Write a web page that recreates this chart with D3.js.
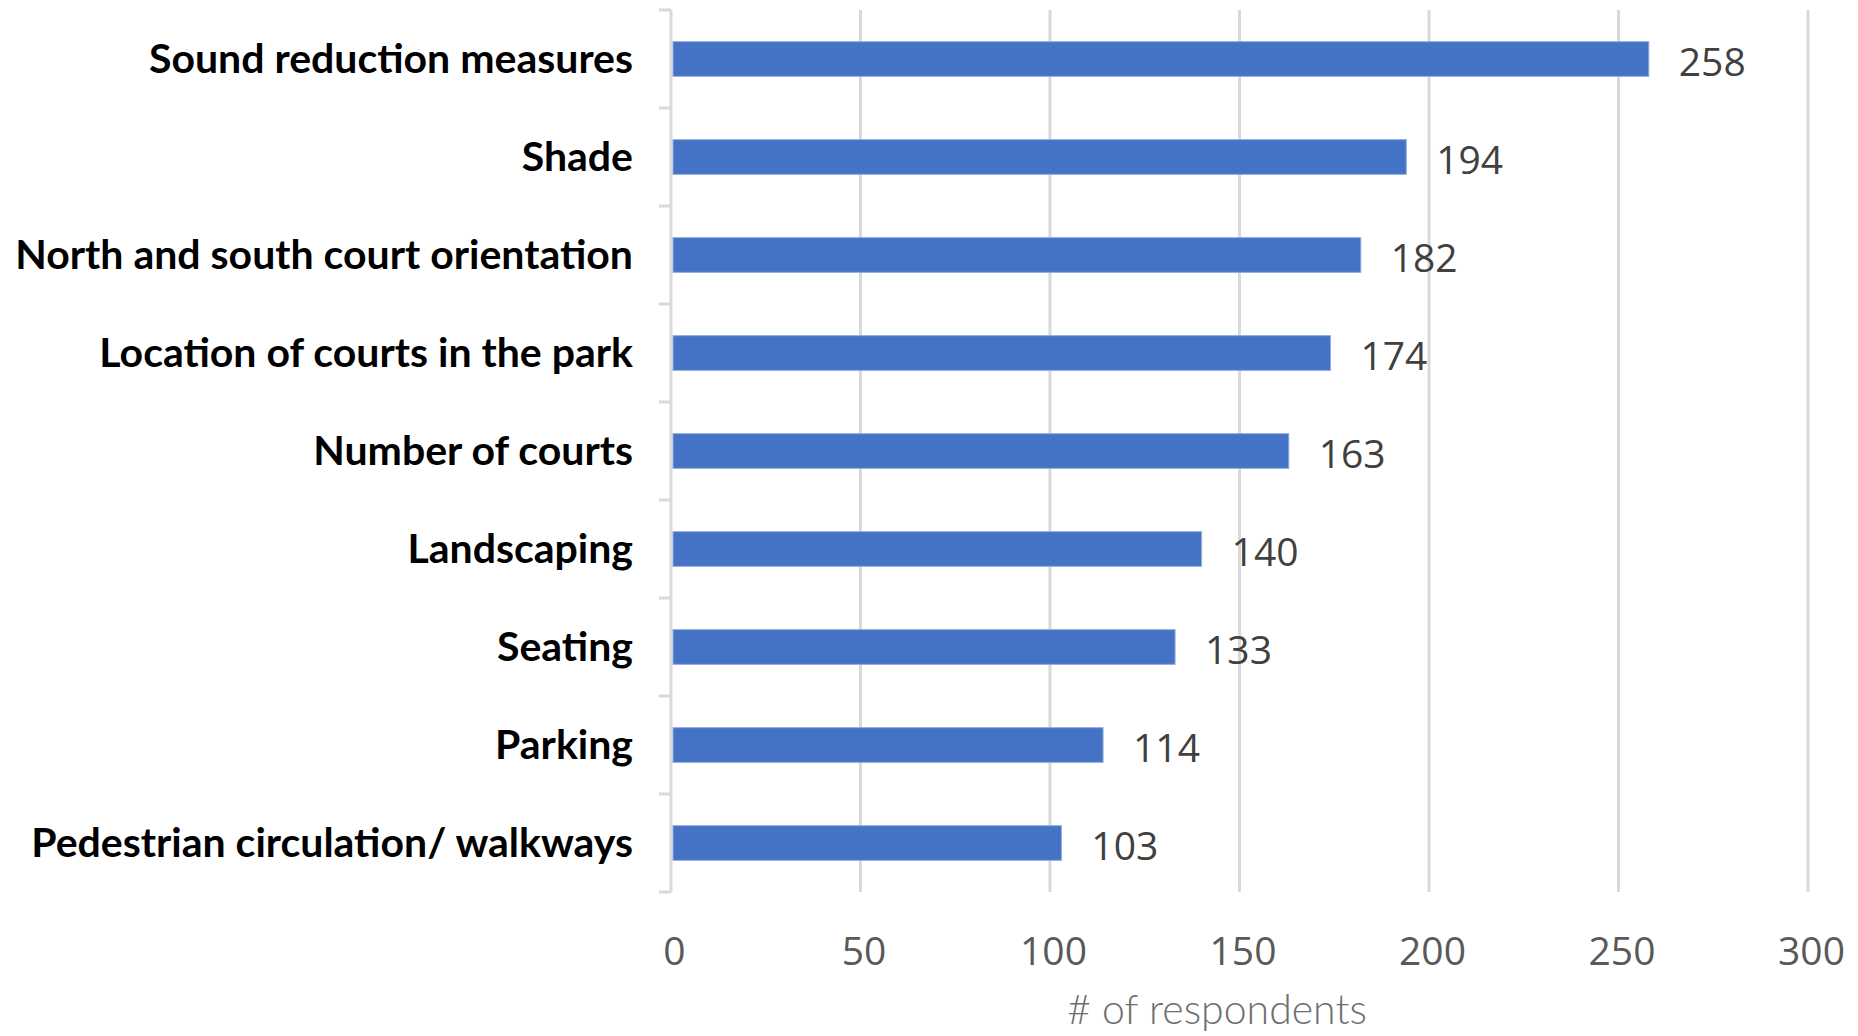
<!DOCTYPE html>
<html>
<head>
<meta charset="utf-8">
<script src="https://cdn.jsdelivr.net/npm/d3@7"></script>
<style>
  html, body { margin: 0; padding: 0; background: #ffffff; }
  svg { display: block; }
</style>
</head>
<body>
<svg id="chart" width="1858" height="1036"></svg>
<script>
const categories = [
  "Sound reduction measures",
  "Shade",
  "North and south court orientation",
  "Location of courts in the park",
  "Number of courts",
  "Landscaping",
  "Seating",
  "Parking",
  "Pedestrian circulation/ walkways"
];
const values = [258, 194, 182, 174, 163, 140, 133, 114, 103];
const xTicks = [0, 50, 100, 150, 200, 250, 300];
const xTitle = "# of respondents";

(function () {
const svg = d3.select("#chart");
const pLeft = 671, pRight = 1808, pTop = 10, pBottom = 892;

const x = d3.scaleLinear().domain([0, 300]).range([pLeft, pRight]);
const y = d3.scaleBand().domain(categories).range([pTop, pBottom])
  .paddingInner(0.646).paddingOuter(0.323);

// gridlines
svg.append("g").selectAll("line").data(xTicks.filter(d => d > 0)).join("line")
  .attr("x1", d => x(d)).attr("x2", d => x(d))
  .attr("y1", pTop).attr("y2", pBottom)
  .attr("stroke", "#d9d9d9").attr("stroke-width", 3);

// left axis line + category tick marks
svg.append("line")
  .attr("x1", pLeft).attr("x2", pLeft).attr("y1", pTop).attr("y2", pBottom)
  .attr("stroke", "#d9d9d9").attr("stroke-width", 3);
const step = y.step();
const boundaryVals = d3.range(categories.length + 1).map(i => pTop + i * step);
svg.append("g").selectAll("line").data(boundaryVals).join("line")
  .attr("x1", pLeft - 12).attr("x2", pLeft)
  .attr("y1", d => d).attr("y2", d => d)
  .attr("stroke", "#d9d9d9").attr("stroke-width", 3);

// bars
svg.append("g").selectAll("rect").data(values).join("rect")
  .attr("x", x(0) + 2)
  .attr("y", (d, i) => y(categories[i]))
  .attr("width", d => x(d) - x(0) - 2)
  .attr("height", y.bandwidth())
  .attr("fill", "#4472c4")
  .attr("stroke", "#8faadc").attr("stroke-width", 1);

// value labels
svg.append("g").selectAll("text").data(values).join("text")
  .attr("x", d => x(d) + 30)
  .attr("y", (d, i) => y(categories[i]) + y.bandwidth() / 2 + 1)
  .attr("dominant-baseline", "central")
  .attr("font-family", "'Open Sans', sans-serif")
  .attr("font-size", 39)
  .attr("fill", "#404040")
  .text(d => d);

// category labels
svg.append("g").selectAll("text").data(categories).join("text")
  .attr("x", 633)
  .attr("y", d => y(d) + y.bandwidth() / 2 - 2)
  .attr("dominant-baseline", "central")
  .attr("text-anchor", "end")
  .attr("font-family", "Lato, sans-serif")
  .attr("font-weight", 700)
  .attr("font-size", 41)
  .attr("fill", "#000000")
  .text(d => d);

// x tick labels
const xAxis = d3.axisBottom(x).tickValues(xTicks).tickSize(0).tickPadding(0);
const gx = svg.append("g").attr("transform", "translate(0, 949)").call(xAxis);
gx.select(".domain").remove();
gx.selectAll("text")
  .attr("y", 0).attr("dy", null)
  .attr("dominant-baseline", "central")
  .attr("dx", 3)
  .attr("font-family", "'Open Sans', sans-serif")
  .attr("font-size", 39)
  .attr("fill", "#595959");

// axis title
svg.append("text")
  .attr("x", 1217).attr("y", 1024)
  .attr("text-anchor", "middle")
  .attr("font-family", "Lato, sans-serif")
  .attr("font-weight", 300)
  .attr("font-size", 41)
  .attr("fill", "#6e6e6e")
  .text(xTitle);
})();
</script>
</body>
</html>
